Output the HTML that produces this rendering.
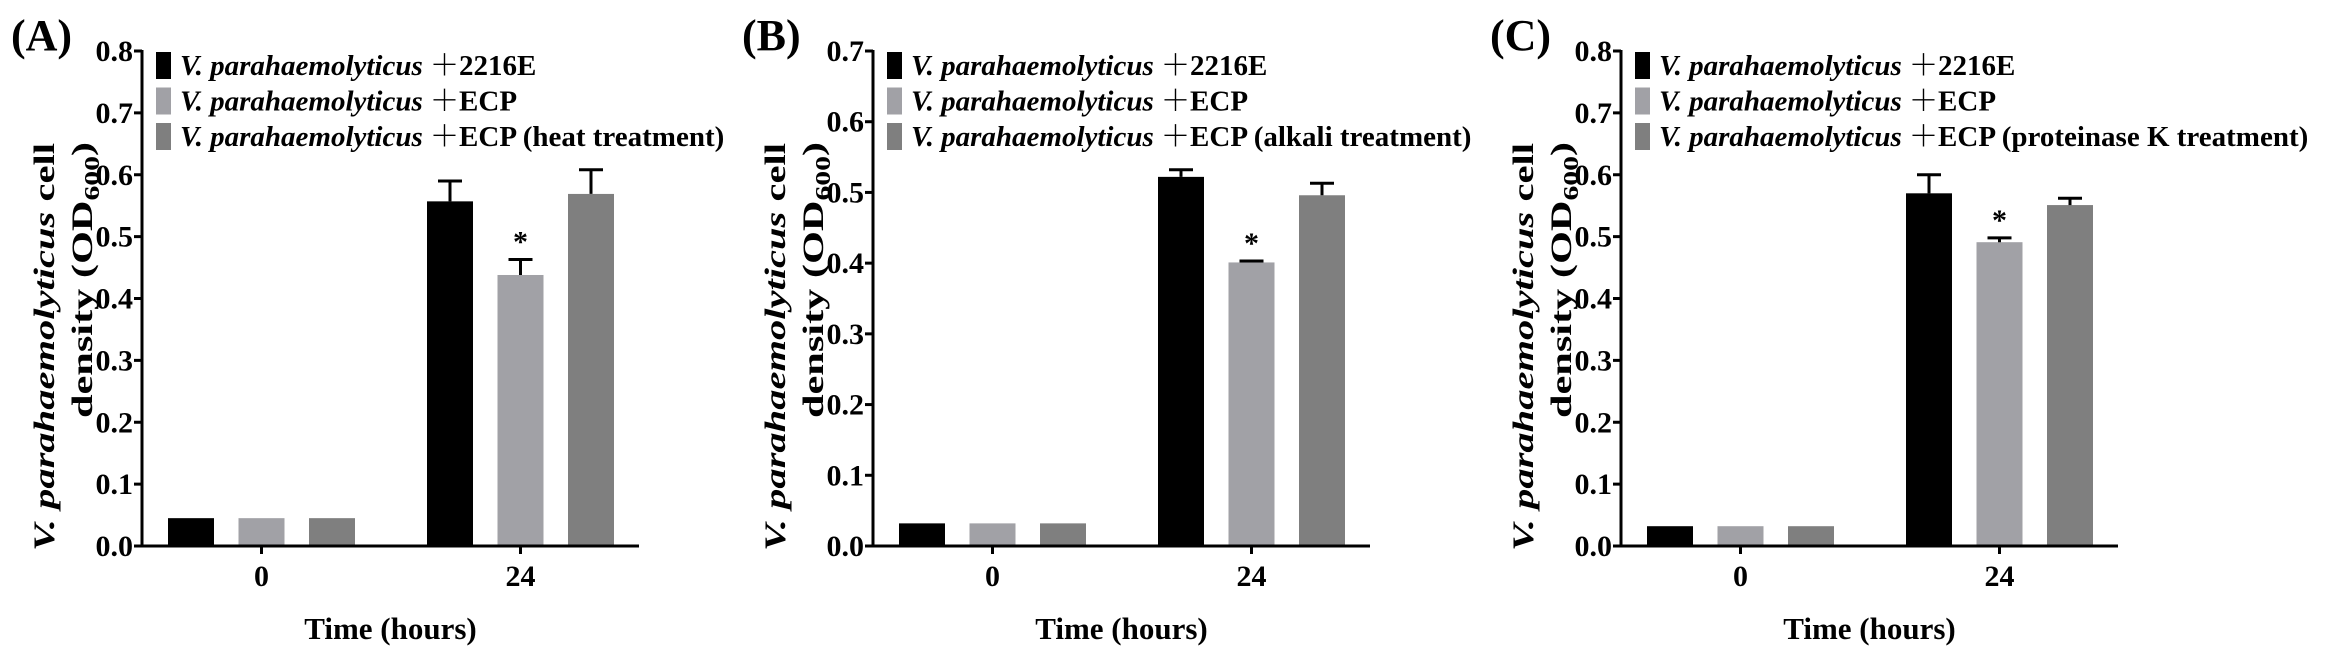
<!DOCTYPE html>
<html><head><meta charset="utf-8">
<style>
html,body{margin:0;padding:0;background:#fff;}
svg{display:block;}
text{font-family:"Liberation Serif","Times New Roman",serif;font-weight:bold;}
.cjk{font-family:"Noto Serif CJK SC","Noto Sans CJK SC",serif;}
</style></head>
<body>
<svg id="fig" width="2328" height="656" viewBox="0 0 2328 656"></svg>
<script>
const categories = ["0", "24"];
const seriesNames = ["2216E", "ECP"];
const panelLabels = ["(A)", "(B)", "(C)"];
const panelTreatments = ["heat treatment", "alkali treatment", "proteinase K treatment"];
const panelMax = [0.8, 0.7, 0.8];
const tickLabelsA = ["0.0","0.1","0.2","0.3","0.4","0.5","0.6","0.7","0.8"];
const tickLabelsB = ["0.0","0.1","0.2","0.3","0.4","0.5","0.6","0.7"];
const tickLabelsC = ["0.0","0.1","0.2","0.3","0.4","0.5","0.6","0.7","0.8"];
const valuesA_2216E = [0.045, 0.557];
const valuesA_ECP = [0.045, 0.438];
const valuesA_treat = [0.045, 0.569];
const errA_2216E = [0, 0.033];
const errA_ECP = [0, 0.025];
const errA_treat = [0, 0.039];
const valuesB_2216E = [0.032, 0.522];
const valuesB_ECP = [0.032, 0.401];
const valuesB_treat = [0.032, 0.496];
const errB_2216E = [0, 0.010];
const errB_ECP = [0, 0.002];
const errB_treat = [0, 0.017];
const valuesC_2216E = [0.032, 0.570];
const valuesC_ECP = [0.032, 0.491];
const valuesC_treat = [0.032, 0.551];
const errC_2216E = [0, 0.030];
const errC_ECP = [0, 0.007];
const errC_treat = [0, 0.011];

const NS = "http://www.w3.org/2000/svg";
const svg = document.getElementById("fig");
const colors = ["#000000", "#a1a1a6", "#7f7f7f"];
function mk(tag, attrs, parent) {
  const e = document.createElementNS(NS, tag);
  for (const k in attrs) e.setAttribute(k, attrs[k]);
  (parent || svg).appendChild(e);
  return e;
}
const panels = [
  {axisX:142, ticks:tickLabelsA, vals:[valuesA_2216E, valuesA_ECP, valuesA_treat], errs:[errA_2216E, errA_ECP, errA_treat]},
  {axisX:873, ticks:tickLabelsB, vals:[valuesB_2216E, valuesB_ECP, valuesB_treat], errs:[errB_2216E, errB_ECP, errB_treat]},
  {axisX:1621, ticks:tickLabelsC, vals:[valuesC_2216E, valuesC_ECP, valuesC_treat], errs:[errC_2216E, errC_ECP, errC_treat]}
];
const yTop = 51, yBot = 546, axisW = 497, barW = 46, pitch = 70.5, groupGap = 259, firstOff = 26;

panels.forEach((p, pi) => {
  const g = mk("g", {});
  
  
  const max = panelMax[pi];
  const y = v => yBot - (v / max) * (yBot - yTop);
  const ax = p.axisX;
  const pl = mk("text", {x: ax - 131, y: 50, "font-size": 44}, g);
  pl.textContent = panelLabels[pi];
  
  
  p.vals.forEach((series, si) => {
    series.forEach((v, ci) => {
      const x0 = ax + firstOff + ci * groupGap + si * pitch;
      const cx = x0 + barW / 2;
      const r = mk("rect", {x: x0, y: y(v), width: barW, height: yBot - y(v), fill: colors[si]}, g);
      
      
      const e = p.errs[si][ci];
      if (e > 0) {
        const eb = mk("path", {d: `M${cx},${y(v)}V${y(v + e)}M${cx - 12},${y(v + e)}H${cx + 12}`, stroke: "#000", "stroke-width": 3, fill: "none"}, g);
        
        
      }
      if (si === 1 && ci === 1) {
        const st = mk("text", {x: cx, y: y(v + e) - 8, "font-size": 30, "text-anchor": "middle"}, g);
        st.textContent = "*";
        
        
      }
    });
  });
  const axl = mk("path", {d: `M${ax},${yTop - 1}V${yBot}H${ax + axisW}`, stroke: "#000", "stroke-width": 3, fill: "none"}, g);
  
  
  p.ticks.forEach((t) => {
    const yy = y(parseFloat(t));
    mk("line", {x1: ax - 8, x2: ax, y1: yy, y2: yy, stroke: "#000", "stroke-width": 3}, g);
    const tl = mk("text", {x: ax - 9, y: yy + 10, "font-size": 30, "text-anchor": "end"}, g);
    tl.textContent = t;
    
    
  });
  categories.forEach((c, ci) => {
    const xx = ax + firstOff + ci * groupGap + pitch + barW / 2;
    mk("line", {x1: xx, x2: xx, y1: yBot, y2: yBot + 8, stroke: "#000", "stroke-width": 3}, g);
    const tl = mk("text", {x: xx, y: 586, "font-size": 30, "text-anchor": "middle"}, g);
    tl.textContent = c;
    
    
  });
  const xt = mk("text", {x: ax + axisW / 2, y: 639, "font-size": 31, "text-anchor": "middle"}, g);
  xt.textContent = "Time (hours)";
  
  
  const yt1 = mk("text", {x: 0, y: 0, "font-size": 30, "text-anchor": "middle", textLength: 408, lengthAdjust: "spacingAndGlyphs", transform: `translate(${ax - 88},347) rotate(-90)`}, g);
  yt1.innerHTML = '<tspan font-style="italic">V. parahaemolyticus</tspan> cell';
  
  
  const yt2 = mk("text", {x: 0, y: 0, "font-size": 30, "text-anchor": "middle", textLength: 276, lengthAdjust: "spacingAndGlyphs", transform: `translate(${ax - 50},280) rotate(-90)`}, g);
  yt2.innerHTML = 'density (OD<tspan font-size="21" dy="7">600</tspan><tspan dy="-7">)</tspan>';
  
  
  const legTexts = ["2216E", "ECP", "ECP (" + panelTreatments[pi] + ")"];
  legTexts.forEach((lt, li) => {
    const cy = 65 + li * 35.5;
    const sq = mk("rect", {x: ax + 14, y: cy - 13, width: 15, height: 27, fill: colors[li]}, g);
    
    
    const tx = mk("text", {x: ax + 38, y: cy + 10, "font-size": 29}, g);
    tx.innerHTML = '<tspan font-style="italic">V. parahaemolyticus</tspan> <tspan class="cjk">＋</tspan>' + lt;
    
    
  });
});
</script>
</body></html>
